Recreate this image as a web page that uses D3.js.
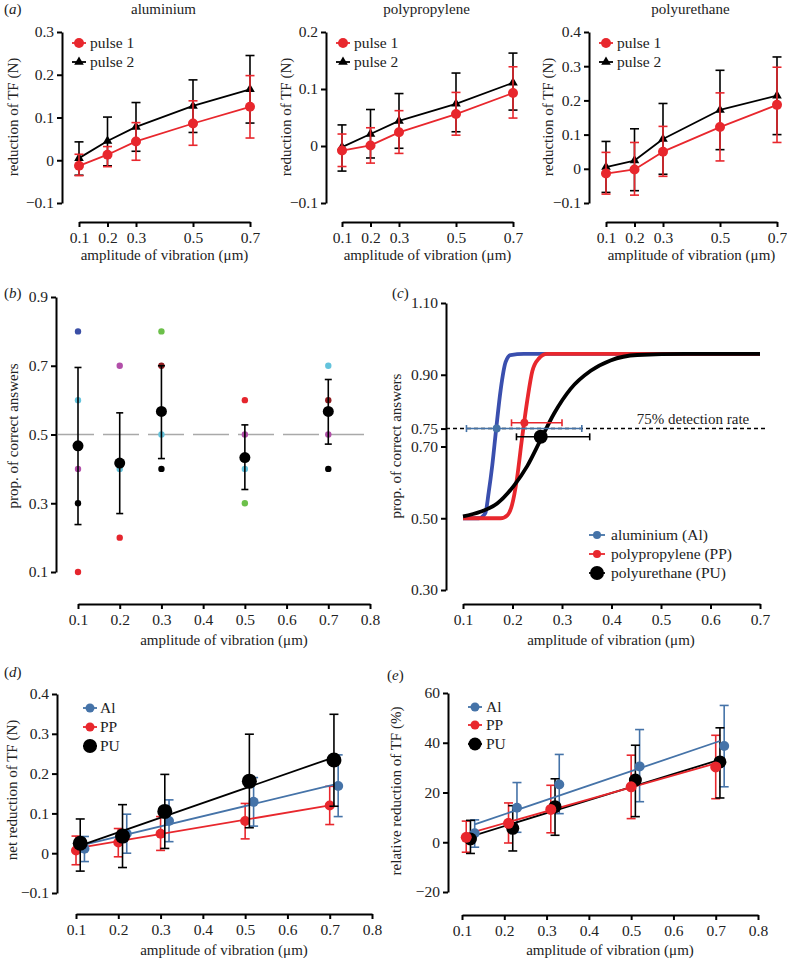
<!DOCTYPE html>
<html><head><meta charset="utf-8">
<script src="https://cdn.jsdelivr.net/npm/d3@7"></script>
<style>body{margin:0;background:#fff} svg text{font-family:'Liberation Serif','Times New Roman',Times,serif !important;}</style>
</head><body><svg id="c" width="787" height="958"></svg>
<script>
// ---------- DATA ----------
const ampA = [0.1, 0.2, 0.3, 0.5, 0.7];
// aluminium
const alP1 = [-0.013, 0.013, 0.044, 0.086, 0.125];
const alP1Lo = [-0.036, -0.015, 0.000, 0.035, 0.052];
const alP1Hi = [0.014, 0.032, 0.088, 0.139, 0.198];
const alP2 = [0.005, 0.045, 0.078, 0.127, 0.166];
const alP2Lo = [-0.035, -0.013, 0.021, 0.065, 0.087];
const alP2Hi = [0.043, 0.101, 0.135, 0.188, 0.245];
// polypropylene
const ppP1 = [-0.008, 0.001, 0.024, 0.056, 0.093];
const ppP1Lo = [-0.036, -0.030, -0.013, 0.019, 0.049];
const ppP1Hi = [0.021, 0.032, 0.062, 0.094, 0.139];
const ppP2 = [-0.002, 0.021, 0.044, 0.074, 0.111];
const ppP2Lo = [-0.044, -0.021, -0.004, 0.025, 0.063];
const ppP2Hi = [0.037, 0.064, 0.092, 0.128, 0.163];
// polyurethane
const puP1 = [-0.014, -0.002, 0.050, 0.122, 0.187];
const puP1Lo = [-0.074, -0.077, -0.022, 0.023, 0.077];
const puP1Hi = [0.048, 0.077, 0.124, 0.222, 0.297];
const puP2 = [0.005, 0.024, 0.087, 0.172, 0.214];
const puP2Lo = [-0.069, -0.064, -0.016, 0.056, 0.100];
const puP2Hi = [0.080, 0.117, 0.191, 0.288, 0.327];

// panel b
const ampB = [0.1, 0.2, 0.3, 0.5, 0.7];
const meanB = [0.467, 0.417, 0.567, 0.433, 0.567];
const loB = [0.238, 0.270, 0.430, 0.340, 0.472];
const hiB = [0.695, 0.563, 0.700, 0.528, 0.660];
const subjBlue = [0.8, null, null, null, null];
const subjCyan = [0.6, 0.4, 0.5, 0.4, 0.7];
const subjPurple = [0.4, 0.7, null, 0.5, 0.5];
const subjBlack = [0.3, null, 0.4, null, 0.4];
const subjRed = [0.1, 0.2, null, 0.6, null];
const subjGreen = [null, null, 0.8, 0.3, null];
const subjDarkRed = [null, null, 0.7, null, 0.6];

// panel c: fitted psychometric curves
const curveAlX = [0.10, 0.132, 0.145, 0.152, 0.159, 0.167, 0.176, 0.186, 0.196, 0.223, 0.70];
const curveAlY = [0.50, 0.50, 0.514, 0.573, 0.646, 0.749, 0.857, 0.935, 0.955, 0.958, 0.958];
const curvePPX = [0.10, 0.176, 0.19, 0.199, 0.209, 0.219, 0.23, 0.24, 0.253, 0.27, 0.70];
const curvePPY = [0.50, 0.50, 0.509, 0.537, 0.61, 0.72, 0.83, 0.91, 0.945, 0.958, 0.958];
const curvePUX = [0.10, 0.135, 0.169, 0.203, 0.23, 0.257, 0.284, 0.317, 0.358, 0.398, 0.452, 0.55, 0.70];
const curvePUY = [0.505, 0.518, 0.541, 0.591, 0.646, 0.719, 0.792, 0.86, 0.911, 0.94, 0.955, 0.958, 0.958];
const thrX = [0.168, 0.224, 0.257];
const thrY = [0.750, 0.766, 0.727];
const thrLo = [0.107, 0.198, 0.208];
const thrHi = [0.340, 0.300, 0.356];
const detectionRate = 0.75;

// panel d
const dAmpAl = [0.12, 0.22, 0.32, 0.52, 0.72];
const dAmpPP = [0.10, 0.20, 0.30, 0.50, 0.70];
const dAmpPU = [0.11, 0.21, 0.31, 0.51, 0.71];
const dAl = [0.011, 0.049, 0.081, 0.129, 0.169];
const dAlLo = [-0.021, 0.000, 0.029, 0.068, 0.092];
const dAlHi = [0.042, 0.098, 0.134, 0.190, 0.247];
const dPP = [0.007, 0.027, 0.049, 0.081, 0.120];
const dPPLo = [-0.029, -0.009, 0.007, 0.036, 0.072];
const dPPHi = [0.043, 0.062, 0.092, 0.125, 0.168];
const dPU = [0.025, 0.043, 0.105, 0.181, 0.234];
const dPULo = [-0.045, -0.036, 0.012, 0.064, 0.118];
const dPUHi = [0.086, 0.122, 0.198, 0.299, 0.349];
const dFitAlX = [0.11, 0.71], dFitAlY = [0.019, 0.172];
const dFitPPX = [0.10, 0.70], dFitPPY = [0.012, 0.120];
const dFitPUX = [0.11, 0.71], dFitPUY = [0.019, 0.241];

// panel e
const eAmpAl = [0.13, 0.23, 0.33, 0.52, 0.72];
const eAmpPP = [0.11, 0.21, 0.31, 0.50, 0.70];
const eAmpPU = [0.12, 0.22, 0.32, 0.51, 0.71];
const eAl = [3.6, 13.9, 23.2, 30.5, 38.7];
const eAlLo = [-2, 4, 11.5, 16.3, 22.3];
const eAlHi = [9, 24, 35.3, 45.3, 55];
const ePP = [2, 7.6, 13.2, 22.3, 30.3];
const ePPLo = [-4, -0.3, 3.8, 9.5, 17.5];
const ePPHi = [8.5, 15.8, 22.9, 35, 43];
const ePU = [1.3, 5.6, 14.3, 25, 32.3];
const ePULo = [-4.5, -3.5, 2.8, 10.3, 17.8];
const ePUHi = [8.8, 14.7, 25.5, 39, 46];
const eFitAlX = [0.13, 0.71], eFitAlY = [7.2, 40.7];
const eFitPPX = [0.11, 0.70], eFitPPY = [3.3, 31.7];
const eFitPUX = [0.12, 0.71], eFitPUY = [2.3, 33.2];

// tick labels
const ticksA = [0.1, 0.2, 0.3, 0.5, 0.7];
const ticksX8 = [0.1, 0.2, 0.3, 0.4, 0.5, 0.6, 0.7, 0.8];
const ticksX7 = [0.1, 0.2, 0.3, 0.4, 0.5, 0.6, 0.7];
const ticksYB = [0.1, 0.3, 0.5, 0.7, 0.9];
const ticksYC = [0.30, 0.50, 0.70, 0.75, 0.90, 1.10];
const ticksYE = [-20, 0, 20, 40, 60];

// ---------- DRAWING ----------
const FONT = "'Liberation Serif','Times New Roman',Times,serif";
const RED = '#e8272d', BLK = '#000', STEEL = '#4573a8', CBLUE = '#3a4fae';
const svg = d3.select('#c');

function txt(x, y, s, opt = {}) {
  const t = svg.append('text').attr('x', x).attr('y', y).style('font-family', FONT)
    .attr('font-size', opt.size || 15).attr('fill', opt.fill || '#222')
    .attr('text-anchor', opt.anchor || 'middle');
  if (opt.rot) t.attr('transform', `rotate(-90,${x},${y})`);
  t.text(s);
  return t;
}
function plabel(x, y, l) {
  const t = svg.append('text').attr('x', x).attr('y', y).style('font-family', FONT)
    .attr('font-size', 15).attr('fill', '#222');
  t.append('tspan').text('(');
  t.append('tspan').attr('font-style', 'italic').text(l);
  t.append('tspan').text(')');
}
const fmt1 = v => Math.abs(v) < 1e-9 ? '0' : d3.format('.1f')(v);

function mkAxes(o) {
  const x = d3.scaleLinear().domain(o.xd).range(o.xr);
  const y = d3.scaleLinear().domain(o.yd).range(o.yr);
  const gy = svg.append('g').attr('transform', `translate(${o.ax},0)`)
    .call(d3.axisLeft(y).tickValues(o.yt).tickFormat(o.yf).tickSize(5).tickSizeOuter(0).tickPadding(3));
  const gx = svg.append('g').attr('transform', `translate(0,${o.ay})`)
    .call(d3.axisBottom(x).tickValues(o.xt).tickFormat(o.xf || d3.format('.1f')).tickSize(5).tickSizeOuter(0).tickPadding(5));
  [gy, gx].forEach(g => {
    g.attr('font-family', null);
    g.select('.domain').attr('stroke', '#000').attr('stroke-width', 2);
    g.selectAll('.tick line').attr('stroke', '#000').attr('stroke-width', 2);
    g.selectAll('.tick text').attr('font-size', 15.5).style('font-family', FONT).attr('fill', '#222');
  });
  return { x, y };
}
function errV(s, xs, lo, hi, color, cap, w) {
  const g = svg.append('g').attr('stroke', color).attr('stroke-width', w || 1.6).attr('fill', 'none');
  xs.forEach((xv, i) => {
    const X = s.x(xv), Y1 = s.y(lo[i]), Y2 = s.y(hi[i]);
    g.append('line').attr('x1', X).attr('x2', X).attr('y1', Y1).attr('y2', Y2);
    g.append('line').attr('x1', X - cap).attr('x2', X + cap).attr('y1', Y1).attr('y2', Y1);
    g.append('line').attr('x1', X - cap).attr('x2', X + cap).attr('y1', Y2).attr('y2', Y2);
  });
}
function polyline(s, xs, ys, color, w, curve) {
  const ln = d3.line().x(d => s.x(d[0])).y(d => s.y(d[1]));
  if (curve) ln.curve(curve);
  svg.append('path').datum(xs.map((v, i) => [v, ys[i]])).attr('d', ln)
    .attr('fill', 'none').attr('stroke', color).attr('stroke-width', w).attr('stroke-linejoin', 'round');
}
function dots(s, xs, ys, color, r) {
  xs.forEach((v, i) => {
    if (ys[i] == null) return;
    svg.append('circle').attr('cx', s.x(v)).attr('cy', s.y(ys[i])).attr('r', r).attr('fill', color);
  });
}
function tris(s, xs, ys, color, size) {
  const sym = d3.symbol(d3.symbolTriangle).size(size);
  xs.forEach((v, i) => {
    svg.append('path').attr('d', sym()).attr('fill', color)
      .attr('transform', `translate(${s.x(v)},${s.y(ys[i])})`);
  });
}
function legendItem(x, y, color, marker, r, label, half, gap) {
  svg.append('line').attr('x1', x - half).attr('x2', x + half).attr('y1', y).attr('y2', y)
    .attr('stroke', color).attr('stroke-width', 1.8);
  if (marker === 'tri') {
    svg.append('path').attr('d', d3.symbol(d3.symbolTriangle).size(r)()).attr('fill', color)
      .attr('transform', `translate(${x},${y})`);
  } else {
    svg.append('circle').attr('cx', x).attr('cy', y).attr('r', r).attr('fill', color);
  }
  txt(x + gap, y + 5, label, { anchor: 'start', size: 15.5 });
}

// ---------- PANEL A ----------
plabel(4, 14, 'a');
const panelsA = [
  { title: 'aluminium', ax: 62, xr: [79, 250], yd: [-0.1, 0.3], yt: [-0.1, 0, 0.1, 0.2, 0.3], ylab: 13,
    p1: alP1, p1lo: alP1Lo, p1hi: alP1Hi, p2: alP2, p2lo: alP2Lo, p2hi: alP2Hi },
  { title: 'polypropylene', ax: 326, xr: [342, 513], yd: [-0.1, 0.2], yt: [-0.1, 0, 0.1, 0.2], ylab: 286,
    p1: ppP1, p1lo: ppP1Lo, p1hi: ppP1Hi, p2: ppP2, p2lo: ppP2Lo, p2hi: ppP2Hi },
  { title: 'polyurethane', ax: 589, xr: [606, 777], yd: [-0.1, 0.4], yt: [-0.1, 0, 0.1, 0.2, 0.3, 0.4], ylab: 548,
    p1: puP1, p1lo: puP1Lo, p1hi: puP1Hi, p2: puP2, p2lo: puP2Lo, p2hi: puP2Hi }
];
panelsA.forEach(p => {
  const s = mkAxes({ xd: [0.1, 0.7], xr: p.xr, yd: p.yd, yr: [203, 32], ax: p.ax, ay: 222,
    yt: p.yt, yf: fmt1, xt: ticksA });
  const cx = (p.xr[0] + p.xr[1]) / 2;
  txt(cx - 1, 14, p.title);
  txt(cx, 260, 'amplitude of vibration (μm)');
  txt(p.ylab, 117, 'reduction of TF (N)', { rot: true }).attr('dy', '0.35em');
  errV(s, ampA, p.p2lo, p.p2hi, BLK, 4.5, 1.6);
  polyline(s, ampA, p.p2, BLK, 1.8);
  tris(s, ampA, p.p2, BLK, 40);
  errV(s, ampA, p.p1lo, p.p1hi, RED, 4.5, 1.6);
  polyline(s, ampA, p.p1, RED, 1.8);
  dots(s, ampA, p.p1, RED, 5);
  legendItem(p.ax + 17, 43, RED, 'circle', 5, 'pulse 1', 7, 11);
  legendItem(p.ax + 17, 62, BLK, 'tri', 40, 'pulse 2', 7, 11);
});

// ---------- PANEL B ----------
plabel(4, 298, 'b');
const sB = mkAxes({ xd: [0.1, 0.8], xr: [78, 370], yd: [0.1, 0.9], yr: [572, 297], ax: 56, ay: 604,
  yt: ticksYB, yf: d3.format('.1f'), xt: ticksX8 });
txt(224, 645, 'amplitude of vibration (μm)');
txt(13, 436, 'prop. of correct answers', { rot: true }).attr('dy', '0.35em');
svg.append('line').attr('x1', sB.x(0.1) - 20).attr('x2', sB.x(0.8) - 5)
  .attr('y1', sB.y(0.5)).attr('y2', sB.y(0.5))
  .attr('stroke', '#a9a9a9').attr('stroke-width', 1.6).attr('stroke-dasharray', '36,9');
dots(sB, ampB, subjBlue, '#3b4fa6', 3.2);
dots(sB, ampB, subjCyan, '#63c3dc', 3.2);
dots(sB, ampB, subjPurple, '#b24fa9', 3.2);
dots(sB, ampB, subjRed, '#e5252d', 3.2);
dots(sB, ampB, subjGreen, '#6cc04a', 3.2);
dots(sB, ampB, subjDarkRed, '#8e1b1f', 3.2);
dots(sB, ampB, subjBlack, '#000', 3.2);
errV(sB, ampB, loB, hiB, BLK, 3.5, 1.6);
dots(sB, ampB, meanB, '#000', 5.5);

// ---------- PANEL C ----------
plabel(392, 298, 'c');
const sC = mkAxes({ xd: [0.1, 0.7], xr: [463, 760], yd: [0.3, 1.1], yr: [590, 303], ax: 446, ay: 604,
  yt: ticksYC, yf: d3.format('.2f'), xt: ticksX7 });
txt(611, 645, 'amplitude of vibration (μm)');
txt(396, 446, 'prop. of correct answers', { rot: true }).attr('dy', '0.35em');
svg.append('line').attr('x1', 446).attr('x2', 768).attr('y1', sC.y(detectionRate)).attr('y2', sC.y(detectionRate))
  .attr('stroke', '#000').attr('stroke-width', 1.6).attr('stroke-dasharray', '4,3');
txt(693, 424, '75% detection rate');
polyline(sC, curveAlX, curveAlY, CBLUE, 3.8, d3.curveMonotoneX);
polyline(sC, curvePPX, curvePPY, RED, 3.8, d3.curveMonotoneX);
polyline(sC, curvePUX, curvePUY, BLK, 3.8, d3.curveMonotoneX);
const thrCol = [STEEL, RED, BLK], thrR = [4, 4, 7];
thrX.forEach((v, i) => {
  const g = svg.append('g').attr('stroke', thrCol[i]).attr('stroke-width', 1.6);
  const Y = sC.y(thrY[i]);
  g.append('line').attr('x1', sC.x(thrLo[i])).attr('x2', sC.x(thrHi[i])).attr('y1', Y).attr('y2', Y);
  g.append('line').attr('x1', sC.x(thrLo[i])).attr('x2', sC.x(thrLo[i])).attr('y1', Y - 3.5).attr('y2', Y + 3.5);
  g.append('line').attr('x1', sC.x(thrHi[i])).attr('x2', sC.x(thrHi[i])).attr('y1', Y - 3.5).attr('y2', Y + 3.5);
  svg.append('circle').attr('cx', sC.x(v)).attr('cy', Y).attr('r', thrR[i]).attr('fill', thrCol[i]);
});
legendItem(597, 535, STEEL, 'circle', 4, 'aluminium (Al)', 8, 14);
legendItem(597, 554, RED, 'circle', 4, 'polypropylene (PP)', 8, 14);
legendItem(597, 573, BLK, 'circle', 7, 'polyurethane (PU)', 8, 14);

// ---------- PANEL D ----------
plabel(4, 677, 'd');
const sD = mkAxes({ xd: [0.1, 0.8], xr: [76, 372], yd: [-0.1, 0.4], yr: [893, 694], ax: 57, ay: 914,
  yt: [-0.1, 0, 0.1, 0.2, 0.3, 0.4], yf: fmt1, xt: ticksX8 });
txt(224, 955, 'amplitude of vibration (μm)');
txt(12, 790, 'net reduction of TF (N)', { rot: true }).attr('dy', '0.35em');
errV(sD, dAmpAl, dAlLo, dAlHi, STEEL, 4.5, 1.6);
errV(sD, dAmpPP, dPPLo, dPPHi, RED, 4.5, 1.6);
polyline(sD, dFitAlX, dFitAlY, STEEL, 1.8);
polyline(sD, dFitPPX, dFitPPY, RED, 1.8);
dots(sD, dAmpAl, dAl, STEEL, 5);
dots(sD, dAmpPP, dPP, RED, 5);
errV(sD, dAmpPU, dPULo, dPUHi, BLK, 4.5, 1.6);
polyline(sD, dFitPUX, dFitPUY, BLK, 1.8);
dots(sD, dAmpPU, dPU, BLK, 7.5);
legendItem(90, 708, STEEL, 'circle', 4.5, 'Al', 7, 10);
legendItem(90, 727, RED, 'circle', 4.5, 'PP', 7, 10);
legendItem(90, 746, BLK, 'circle', 7, 'PU', 7, 10);

// ---------- PANEL E ----------
plabel(387, 680, 'e');
const sE = mkAxes({ xd: [0.1, 0.8], xr: [462, 758], yd: [-20, 60], yr: [892, 693], ax: 448, ay: 915,
  yt: ticksYE, yf: d3.format('d'), xt: ticksX8 });
txt(610, 955, 'amplitude of vibration (μm)');
txt(396, 791, 'relative reduction of TF (%)', { rot: true }).attr('dy', '0.35em');
errV(sE, eAmpAl, eAlLo, eAlHi, STEEL, 4.5, 1.6);
errV(sE, eAmpPP, ePPLo, ePPHi, RED, 4.5, 1.6);
errV(sE, eAmpPU, ePULo, ePUHi, BLK, 4.5, 1.6);
polyline(sE, eFitAlX, eFitAlY, STEEL, 1.8);
polyline(sE, eFitPUX, eFitPUY, BLK, 1.8);
polyline(sE, eFitPPX, eFitPPY, RED, 1.8);
dots(sE, eAmpAl, eAl, STEEL, 5);
dots(sE, eAmpPU, ePU, BLK, 6.5);
dots(sE, eAmpPP, ePP, RED, 5.5);
legendItem(475, 707, STEEL, 'circle', 4.5, 'Al', 7, 11);
legendItem(475, 725, RED, 'circle', 4.5, 'PP', 7, 11);
legendItem(475, 744, BLK, 'circle', 6.5, 'PU', 7, 11);
</script>
</body></html>
